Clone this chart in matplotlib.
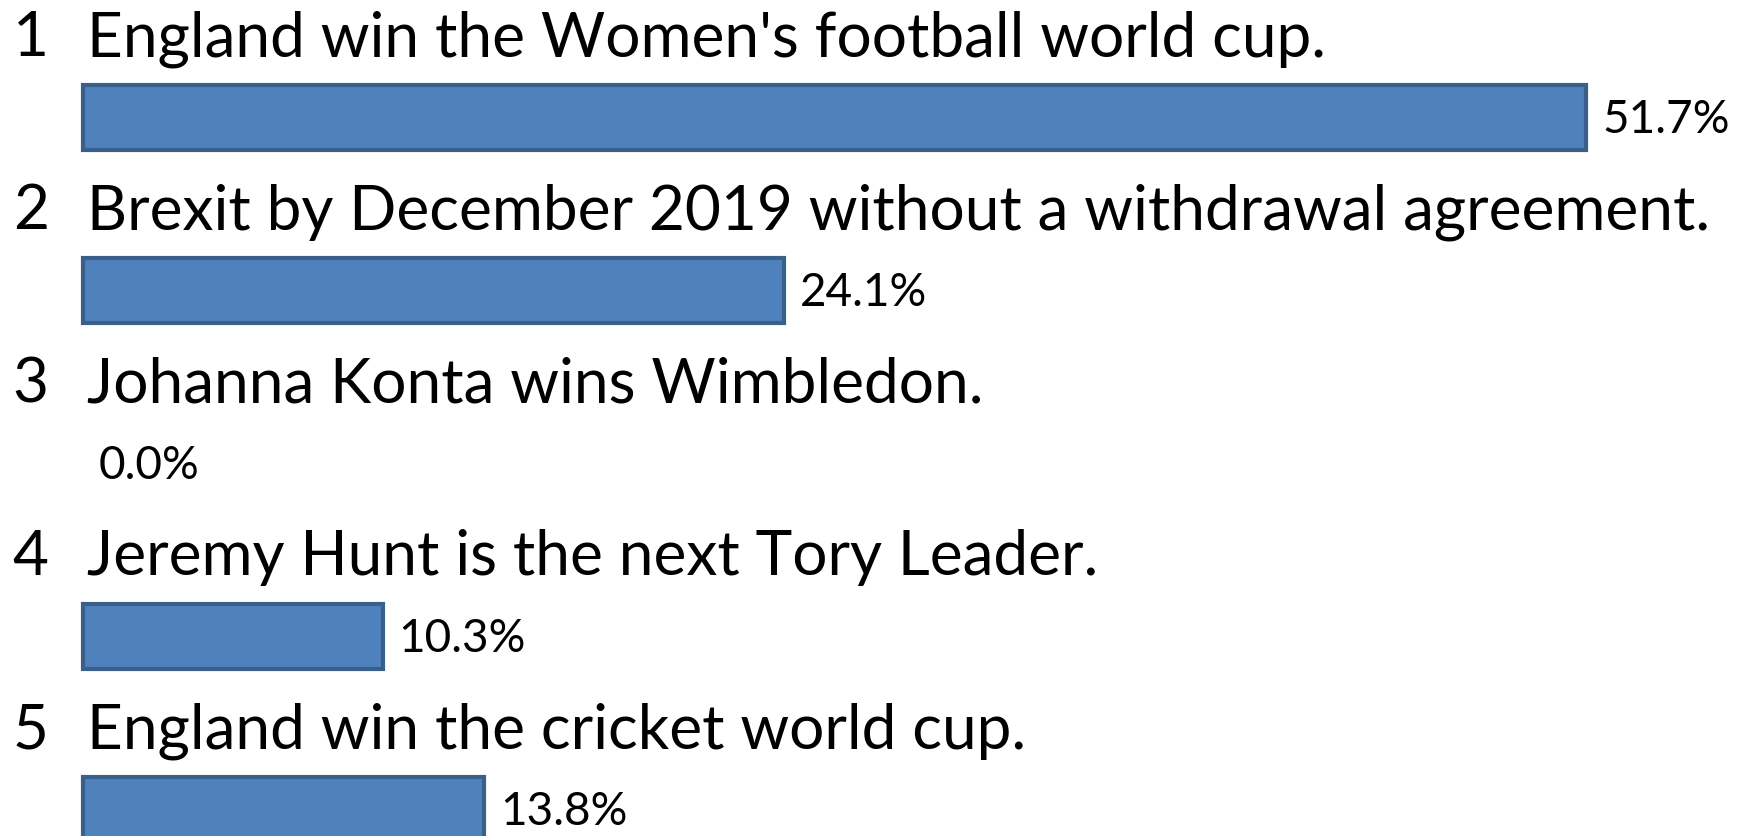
import matplotlib
matplotlib.use('Agg')
import matplotlib.pyplot as plt

# Data
questions = [
    "England win the Women's football world cup.",
    "Brexit by December 2019 without a withdrawal agreement.",
    "Johanna Konta wins Wimbledon.",
    "Jeremy Hunt is the next Tory Leader.",
    "England win the cricket world cup.",
]
percents = [51.7, 24.1, 0.0, 10.3, 13.8]

fill_color = '#4F81BD'
edge_color = '#3A5F8B'
font = 'Lato'

fig = plt.figure(figsize=(17.46, 8.36), dpi=100)
ax = fig.add_axes([0, 0, 1, 1])
ax.set_xlim(-2.855, 57.19)
ax.set_ylim(4.153, -0.679)
ax.axis('off')

# zero-valued bars are not drawn at all (no outline)
widths = [3 if p > 0 else 0 for p in percents]
ax.barh(range(len(percents)), percents, height=0.38, left=0,
        color=fill_color, edgecolor=edge_color, linewidth=widths)

for i, (q, p) in enumerate(zip(questions, percents)):
    ax.text(-2.42, i - 0.355, str(i + 1), fontsize=44.7, family=font,
            va='baseline', ha='left')
    ax.text(0.12, i - 0.355, q, fontsize=44.7, family=font,
            va='baseline', ha='left')
    ax.text(p + 0.55, i + 0.09, f'{p:.1f}%', fontsize=33, family=font,
            va='baseline', ha='left')

fig.savefig('out.png', dpi=100)
